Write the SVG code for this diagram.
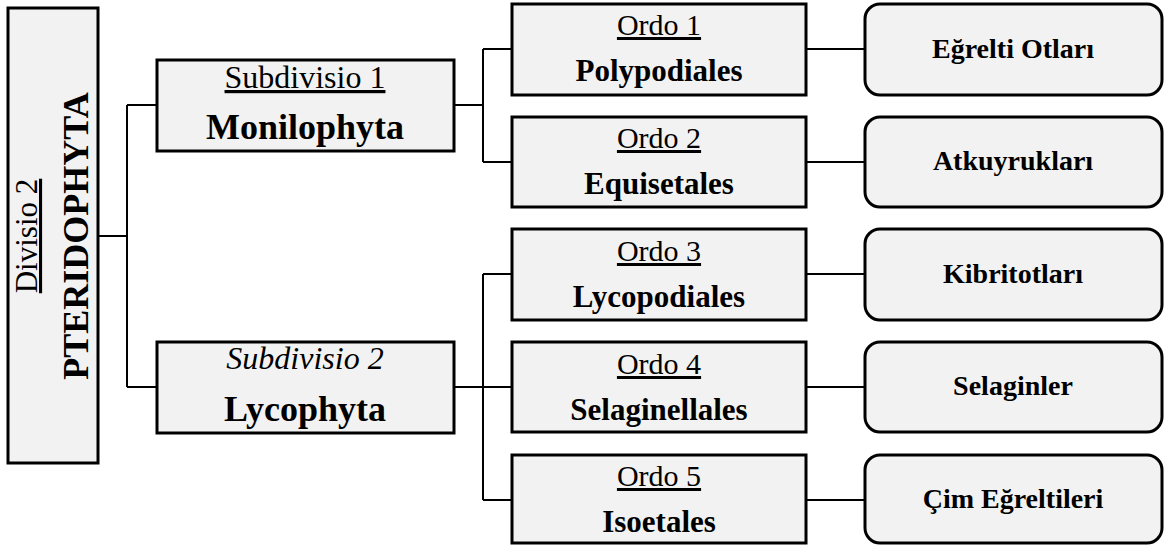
<svg xmlns="http://www.w3.org/2000/svg" width="1165" height="546" viewBox="0 0 1165 546">
<style>
.box{fill:#f2f2f2;stroke:#000;stroke-width:3}
.conn{fill:none;stroke:#000;stroke-width:2}
</style>
<rect width="1165" height="546" fill="#fff"/>
<g id="connectors">
<path class="conn" d="M98,236 H127 M127,105 V387 M127,105 H157 M127,387 H157"/>
<path class="conn" d="M454,105 H483 M483,49 V162 M483,49 H512 M483,162 H512"/>
<path class="conn" d="M454,387 H483 M483,274 V500 M483,274 H512 M483,387 H512 M483,500 H512"/>
<path class="conn" d="M806,49 H865 M806,162 H865 M806,274 H865 M806,387 H865 M806,500 H865"/>
</g>
<g id="divisio">
<rect class="box" x="8" y="8" width="90" height="455"/>
<text x="0" y="0" font-family="Tinos, Liberation Serif, Times New Roman, serif" font-size="31" text-anchor="middle" transform="translate(37,236) rotate(-90)" text-decoration="underline">Divisio 2</text>
<text x="0" y="0" font-family="Tinos, Liberation Serif, Times New Roman, serif" font-size="36" font-weight="bold" text-anchor="middle" transform="translate(88,236) rotate(-90)">PTERIDOPHYTA</text>
</g>
<g id="subdivisio1">
<rect class="box" x="157" y="60" width="297" height="91"/>
<text x="305" y="88" font-family="Tinos, Liberation Serif, Times New Roman, serif" font-size="32" text-anchor="middle" text-decoration="underline">Subdivisio 1</text>
<text x="305" y="139" font-family="Tinos, Liberation Serif, Times New Roman, serif" font-size="36" font-weight="bold" text-anchor="middle">Monilophyta</text>
</g>
<g id="subdivisio2">
<rect class="box" x="157" y="342" width="297" height="91"/>
<text x="305" y="369" font-family="Tinos, Liberation Serif, Times New Roman, serif" font-size="32" font-style="italic" text-anchor="middle">Subdivisio 2</text>
<text x="305" y="421" font-family="Tinos, Liberation Serif, Times New Roman, serif" font-size="36" font-weight="bold" text-anchor="middle">Lycophyta</text>
</g>
<g id="ordo1">
<rect class="box" x="512" y="4" width="294" height="91"/>
<text x="659" y="35" font-family="Tinos, Liberation Serif, Times New Roman, serif" font-size="30" text-anchor="middle" text-decoration="underline">Ordo 1</text>
<text x="659" y="81" font-family="Tinos, Liberation Serif, Times New Roman, serif" font-size="31" font-weight="bold" text-anchor="middle">Polypodiales</text>
</g>
<g id="ordo2">
<rect class="box" x="512" y="117" width="294" height="90"/>
<text x="659" y="148" font-family="Tinos, Liberation Serif, Times New Roman, serif" font-size="30" text-anchor="middle" text-decoration="underline">Ordo 2</text>
<text x="659" y="194" font-family="Tinos, Liberation Serif, Times New Roman, serif" font-size="31" font-weight="bold" text-anchor="middle">Equisetales</text>
</g>
<g id="ordo3">
<rect class="box" x="512" y="229" width="294" height="91"/>
<text x="659" y="261" font-family="Tinos, Liberation Serif, Times New Roman, serif" font-size="30" text-anchor="middle" text-decoration="underline">Ordo 3</text>
<text x="659" y="307" font-family="Tinos, Liberation Serif, Times New Roman, serif" font-size="31" font-weight="bold" text-anchor="middle">Lycopodiales</text>
</g>
<g id="ordo4">
<rect class="box" x="512" y="342" width="294" height="90"/>
<text x="659" y="374" font-family="Tinos, Liberation Serif, Times New Roman, serif" font-size="30" text-anchor="middle" text-decoration="underline">Ordo 4</text>
<text x="659" y="420" font-family="Tinos, Liberation Serif, Times New Roman, serif" font-size="31" font-weight="bold" text-anchor="middle">Selaginellales</text>
</g>
<g id="ordo5">
<rect class="box" x="512" y="455" width="294" height="88"/>
<text x="659" y="486" font-family="Tinos, Liberation Serif, Times New Roman, serif" font-size="30" text-anchor="middle" text-decoration="underline">Ordo 5</text>
<text x="659" y="532" font-family="Tinos, Liberation Serif, Times New Roman, serif" font-size="31" font-weight="bold" text-anchor="middle">Isoetales</text>
</g>
<g id="egrelti">
<rect class="box" x="865" y="4" width="297" height="91" rx="15"/>
<text x="1013" y="58" font-family="Tinos, Liberation Serif, Times New Roman, serif" font-size="28" font-weight="bold" text-anchor="middle">Eğrelti Otları</text>
</g>
<g id="atkuyruklari">
<rect class="box" x="865" y="117" width="297" height="90" rx="15"/>
<text x="1013" y="170" font-family="Tinos, Liberation Serif, Times New Roman, serif" font-size="28" font-weight="bold" text-anchor="middle">Atkuyrukları</text>
</g>
<g id="kibritotlari">
<rect class="box" x="865" y="229" width="297" height="91" rx="15"/>
<text x="1013" y="283" font-family="Tinos, Liberation Serif, Times New Roman, serif" font-size="28" font-weight="bold" text-anchor="middle">Kibritotları</text>
</g>
<g id="selaginler">
<rect class="box" x="865" y="342" width="297" height="90" rx="15"/>
<text x="1013" y="395" font-family="Tinos, Liberation Serif, Times New Roman, serif" font-size="28" font-weight="bold" text-anchor="middle">Selaginler</text>
</g>
<g id="cim">
<rect class="box" x="865" y="455" width="297" height="88" rx="15"/>
<text x="1013" y="508" font-family="Tinos, Liberation Serif, Times New Roman, serif" font-size="28" font-weight="bold" text-anchor="middle">Çim Eğreltileri</text>
</g>
</svg>
